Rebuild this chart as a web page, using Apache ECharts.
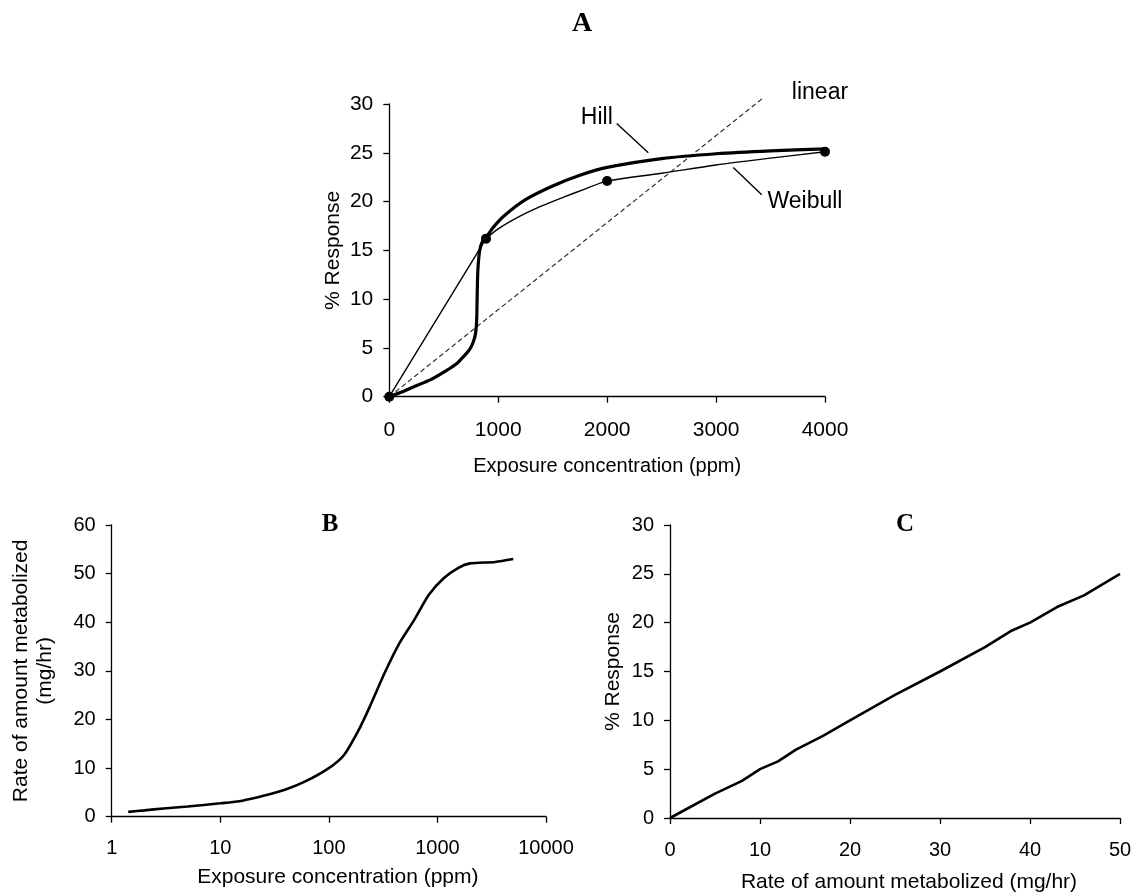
<!DOCTYPE html>
<html>
<head>
<meta charset="utf-8">
<script src="https://cdn.jsdelivr.net/npm/echarts@6/dist/echarts.min.js"></script>
<style>
html,body{margin:0;padding:0;background:#fff;}
#chart{width:1135px;height:894px;}
</style>
</head>
<body>
<div id="chart"></div>
<script>
// ---------- Panel A data ----------
const aXTicks = [0, 1000, 2000, 3000, 4000];
const aYTicks = [0, 5, 10, 15, 20, 25, 30];
const hillCurve = [[0,0],[120,0.5],[220,1.0],[380,1.75],[527,2.7],[620,3.4],[680,4.1],[735,4.8],[771,5.6],[792,6.5],[802,7.8],[806,9.9],[810,12.0],[816,13.5],[830,15.0],[855,15.9],[888,16.3],[950,17.3],[1050,18.5],[1250,20.2],[1500,21.6],[1750,22.7],[2000,23.5],[2500,24.4],[3000,24.9],[3500,25.2],[4000,25.4]];
const weibullLow = [[0,0],[888,16.2]];
const weibullHigh = [[888,16.2],[1000,17.2],[1200,18.5],[1400,19.55],[1600,20.45],[1800,21.3],[2000,22.1],[2500,22.9],[3000,23.75],[3500,24.45],[4000,25.1]];
const linearFit = [[0,0],[3430,30.6]];
const observed = [[0,0],[888,16.2],[2000,22.1],[4000,25.1]];
const curveNames = ['Hill','Weibull','linear'];
const namePos = [[1905,28.6],[3816,20.0],[3954,31.2]];
const hillLeader = [[2088,28.0],[2378,25.0]];
const weibullLeader = [[3158,23.5],[3419,20.7]];

// ---------- Panel B data ----------
const bXTicks = [1, 10, 100, 1000, 10000];
const bYTicks = [0, 10, 20, 30, 40, 50, 60];
const metabCurve = [[1.42,1.0],[2,1.3],[3,1.7],[5,2.1],[10,2.75],[16,3.3],[25,4.3],[40,5.6],[60,7.2],[100,10.0],[138,12.7],[189,17.9],[239,22.7],[327,29.6],[447,35.7],[612,40.5],[837,45.7],[1148,49.1],[1560,51.2],[1990,52.1],[3400,52.4],[5000,53.0]];

// ---------- Panel C data ----------
const cXTicks = [0, 10, 20, 30, 40, 50];
const cYTicks = [0, 5, 10, 15, 20, 25, 30];
const responseCurve = [[0,0],[2,1.0],[5,2.5],[8,3.8],[10,5.0],[12,5.8],[14,7.0],[17,8.4],[20,10.0],[25,12.6],[30,15.0],[35,17.5],[38,19.2],[40,20.0],[43,21.6],[46,22.8],[50,25.0]];

const panelTitles = ['A','B','C'];

const FONT = '"Liberation Sans", Arial, sans-serif';
const tickFontA = {color:'#000', fontFamily: FONT, fontSize: 21};
const tickFont = {color:'#000', fontFamily: FONT, fontSize: 20};
const nameFont = {color:'#000', fontFamily: FONT, fontSize: 21};
const axLine = {show:true, onZero:false, lineStyle:{color:'#000', width:1.3}};
const axTick = {show:true, inside:false, length:6, lineStyle:{color:'#000', width:1.3}};
const plain = v => String(Math.round(v));

function valAxis(gi, ticks, tf, extra) {
  return Object.assign({
    type:'value', gridIndex: gi,
    min: ticks[0], max: ticks[ticks.length-1], interval: ticks[1]-ticks[0],
    axisLine: axLine, axisTick: axTick, splitLine:{show:false},
    axisLabel: Object.assign({margin: 16, formatter: plain}, tf),
    nameTextStyle: nameFont
  }, extra || {});
}
const xLabelA = Object.assign({margin: 23, formatter: plain}, tickFontA);
const xLabel = Object.assign({margin: 22, formatter: plain}, tickFont);

const chart = echarts.init(document.getElementById('chart'), null, {renderer:'canvas'});
const option = {
  animation: false,
  backgroundColor: '#fff',
  graphic: [
    {type:'text', x: 582, y: 24, style:{text: panelTitles[0], x:0, y:0, align:'center', verticalAlign:'middle', font:'bold 28px "Liberation Serif", serif', fill:'#000'}},
    {type:'text', x: 330, y: 525, style:{text: panelTitles[1], x:0, y:0, align:'center', verticalAlign:'middle', font:'bold 25px "Liberation Serif", serif', fill:'#000'}},
    {type:'text', x: 905, y: 525, style:{text: panelTitles[2], x:0, y:0, align:'center', verticalAlign:'middle', font:'bold 25px "Liberation Serif", serif', fill:'#000'}}
  ],
  grid: [
    {left: 389.3, top: 104, width: 435.7, height: 292.7},
    {left: 111.7, top: 525, width: 434.3, height: 291.7},
    {left: 670, top: 525, width: 450, height: 294.3}
  ],
  xAxis: [
    valAxis(0, aXTicks, tickFontA, {name:'Exposure concentration (ppm)', nameLocation:'middle', nameGap: 60, axisLabel: xLabelA, nameTextStyle: Object.assign({}, nameFont, {fontSize: 20})}),
    {type:'log', gridIndex:1, logBase:10, min: bXTicks[0], max: bXTicks[bXTicks.length-1],
      axisLine: axLine, axisTick: axTick, splitLine:{show:false}, minorTick:{show:false},
      axisLabel: xLabel,
      name:'Exposure concentration (ppm)', nameLocation:'middle', nameGap: 50, nameTextStyle: Object.assign({padding:[0,0,0,18]}, nameFont)},
    valAxis(2, cXTicks, tickFont, {name:'Rate of amount metabolized (mg/hr)', nameLocation:'middle', nameGap: 54, axisLabel: xLabel, nameTextStyle: Object.assign({padding:[0,0,0,28]}, nameFont)})
  ],
  yAxis: [
    valAxis(0, aYTicks, tickFontA, {name:'% Response', nameLocation:'middle', nameGap: 46}),
    valAxis(1, bYTicks, tickFont, {name:'Rate of amount metabolized\n(mg/hr)', nameLocation:'middle', nameGap: 54, nameTextStyle: Object.assign({lineHeight: 24}, nameFont)}),
    valAxis(2, cYTicks, tickFont, {name:'% Response', nameLocation:'middle', nameGap: 46})
  ],
  series: [
    {type:'line', xAxisIndex:0, yAxisIndex:0, data: linearFit, symbol:'none', clip:false,
      lineStyle:{color:'#222', width:1.1, type:[5,3]}},
    {type:'line', xAxisIndex:0, yAxisIndex:0, data: weibullLow, symbol:'none',
      lineStyle:{color:'#000', width:1.4}},
    {type:'line', xAxisIndex:0, yAxisIndex:0, data: weibullHigh, symbol:'none', smooth:0.3,
      lineStyle:{color:'#000', width:1.4}},
    {type:'line', xAxisIndex:0, yAxisIndex:0, data: hillCurve, symbol:'none', smooth:0.25,
      lineStyle:{color:'#000', width:3.2}},
    {type:'scatter', xAxisIndex:0, yAxisIndex:0, data: observed, symbol:'circle', symbolSize:10, clip:false,
      itemStyle:{color:'#000', opacity:1}},
    {type:'line', xAxisIndex:0, yAxisIndex:0, data: hillLeader, symbol:'none', lineStyle:{color:'#000', width:1.4}},
    {type:'line', xAxisIndex:0, yAxisIndex:0, data: weibullLeader, symbol:'none', lineStyle:{color:'#000', width:1.4}},
    {type:'scatter', xAxisIndex:0, yAxisIndex:0, clip:false, symbolSize:1, itemStyle:{color:'rgba(255,255,255,0)', opacity:1},
      data: curveNames.map((n,i)=>({name:n, value:namePos[i]})),
      label:{show:true, position:'inside', formatter: p => p.name, color:'#000', fontFamily:FONT, fontSize:23}},
    {type:'line', xAxisIndex:1, yAxisIndex:1, data: metabCurve, symbol:'none', smooth:0.25,
      lineStyle:{color:'#000', width:2.6}},
    {type:'line', xAxisIndex:2, yAxisIndex:2, data: responseCurve, symbol:'none',
      lineStyle:{color:'#000', width:2.6}}
  ]
};
chart.setOption(option);
</script>
</body>
</html>
